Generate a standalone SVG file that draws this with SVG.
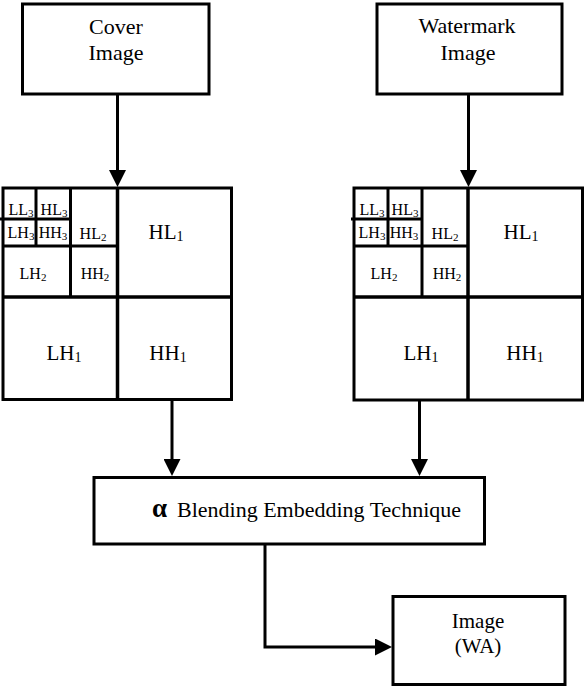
<svg xmlns="http://www.w3.org/2000/svg" width="584" height="686" viewBox="0 0 584 686">
<defs>
<style>
.box{fill:#fff;stroke:#000;stroke-width:3}
.ln{fill:none;stroke:#000;stroke-width:3}
.mn{fill:none;stroke:#000;stroke-width:3.5}
.t{font-family:"Liberation Serif","Times New Roman",serif;fill:#000;text-anchor:middle}
.big{font-size:22px}
.mid{font-size:21px}
.sm{font-size:16px}
.s1{font-size:14px}
.s2{font-size:11px}
</style>
<marker id="ah" viewBox="0 0 17 17" refX="0" refY="8.5" markerWidth="17" markerHeight="17" markerUnits="userSpaceOnUse" orient="auto">
<path d="M0,0 L17,8.5 L0,17 z" fill="#000"/>
</marker>
</defs>
<rect width="584" height="686" fill="#fff"/>

<g id="cover">
<rect class="box" x="22.5" y="4" width="186.5" height="90"/>
<text class="t big" x="116" y="34">Cover</text>
<text class="t big" x="116" y="60">Image</text>
</g>

<g id="watermark">
<rect class="box" x="377" y="4" width="185" height="90"/>
<text class="t big" x="467" y="33">Watermark</text>
<text class="t big" x="468" y="60">Image</text>
</g>

<g id="grid-left">
<rect class="box" x="3" y="188" width="228.5" height="211.5"/>
<line class="mn" x1="117.5" y1="188" x2="117.5" y2="399.5"/>
<line class="mn" x1="3" y1="297" x2="231.5" y2="297"/>
<line class="ln" x1="70.5" y1="188" x2="70.5" y2="297"/>
<line class="ln" x1="3" y1="246" x2="117.5" y2="246"/>
<line class="ln" x1="36" y1="188" x2="36" y2="246"/>
<line class="ln" x1="0" y1="219" x2="70.5" y2="219"/>
<text class="t sm" x="21" y="215">LL<tspan class="s2" dy="2">3</tspan></text>
<text class="t sm" x="54" y="215">HL<tspan class="s2" dy="2">3</tspan></text>
<text class="t sm" x="21" y="238">LH<tspan class="s2" dy="2">3</tspan></text>
<text class="t sm" x="53" y="238">HH<tspan class="s2" dy="2">3</tspan></text>
<text class="t sm" x="93" y="239">HL<tspan class="s2" dy="2">2</tspan></text>
<text class="t sm" x="33" y="279">LH<tspan class="s2" dy="2">2</tspan></text>
<text class="t sm" x="95" y="279">HH<tspan class="s2" dy="2">2</tspan></text>
<text class="t mid" x="166" y="239">HL<tspan class="s1" dy="2">1</tspan></text>
<text class="t mid" x="64" y="360">LH<tspan class="s1" dy="2">1</tspan></text>
<text class="t mid" x="168" y="360">HH<tspan class="s1" dy="2">1</tspan></text>
</g>

<g id="grid-right">
<rect class="box" x="354" y="188" width="228.5" height="212"/>
<line class="mn" x1="468" y1="188" x2="468" y2="400"/>
<line class="mn" x1="354" y1="297" x2="582.5" y2="297"/>
<line class="ln" x1="422" y1="188" x2="422" y2="297"/>
<line class="ln" x1="354" y1="246" x2="468" y2="246"/>
<line class="ln" x1="388" y1="188" x2="388" y2="246"/>
<line class="ln" x1="351" y1="219" x2="422" y2="219"/>
<text class="t sm" x="372" y="215">LL<tspan class="s2" dy="2">3</tspan></text>
<text class="t sm" x="405" y="215">HL<tspan class="s2" dy="2">3</tspan></text>
<text class="t sm" x="372" y="238">LH<tspan class="s2" dy="2">3</tspan></text>
<text class="t sm" x="404" y="238">HH<tspan class="s2" dy="2">3</tspan></text>
<text class="t sm" x="445" y="239">HL<tspan class="s2" dy="2">2</tspan></text>
<text class="t sm" x="384" y="279">LH<tspan class="s2" dy="2">2</tspan></text>
<text class="t sm" x="447" y="279">HH<tspan class="s2" dy="2">2</tspan></text>
<text class="t mid" x="521" y="239">HL<tspan class="s1" dy="2">1</tspan></text>
<text class="t mid" x="421" y="360">LH<tspan class="s1" dy="2">1</tspan></text>
<text class="t mid" x="525" y="360">HH<tspan class="s1" dy="2">1</tspan></text>
</g>

<g id="blending">
<rect class="box" x="94" y="477.5" width="390.5" height="66.5"/>
<text x="152" y="517" style="font-family:'Liberation Serif','Times New Roman',serif;fill:#000"><tspan font-weight="bold" font-size="27">α</tspan><tspan x="177" font-size="22">Blending Embedding Technique</tspan></text>
</g>

<g id="image-wa">
<rect class="box" x="393" y="596.5" width="172" height="88"/>
<text class="t mid" x="478" y="628">Image</text>
<text class="t mid" x="478" y="653">(WA)</text>
</g>

<g id="connectors">
<line class="ln" x1="117.5" y1="95" x2="117.5" y2="170" marker-end="url(#ah)"/>
<line class="ln" x1="468.5" y1="95" x2="468.5" y2="170" marker-end="url(#ah)"/>
<line class="ln" x1="172" y1="400" x2="172" y2="459" marker-end="url(#ah)"/>
<line class="ln" x1="419.5" y1="400" x2="419.5" y2="459" marker-end="url(#ah)"/>
<polyline class="ln" points="265,544 265,647 375,647" marker-end="url(#ah)"/>
</g>
</svg>
